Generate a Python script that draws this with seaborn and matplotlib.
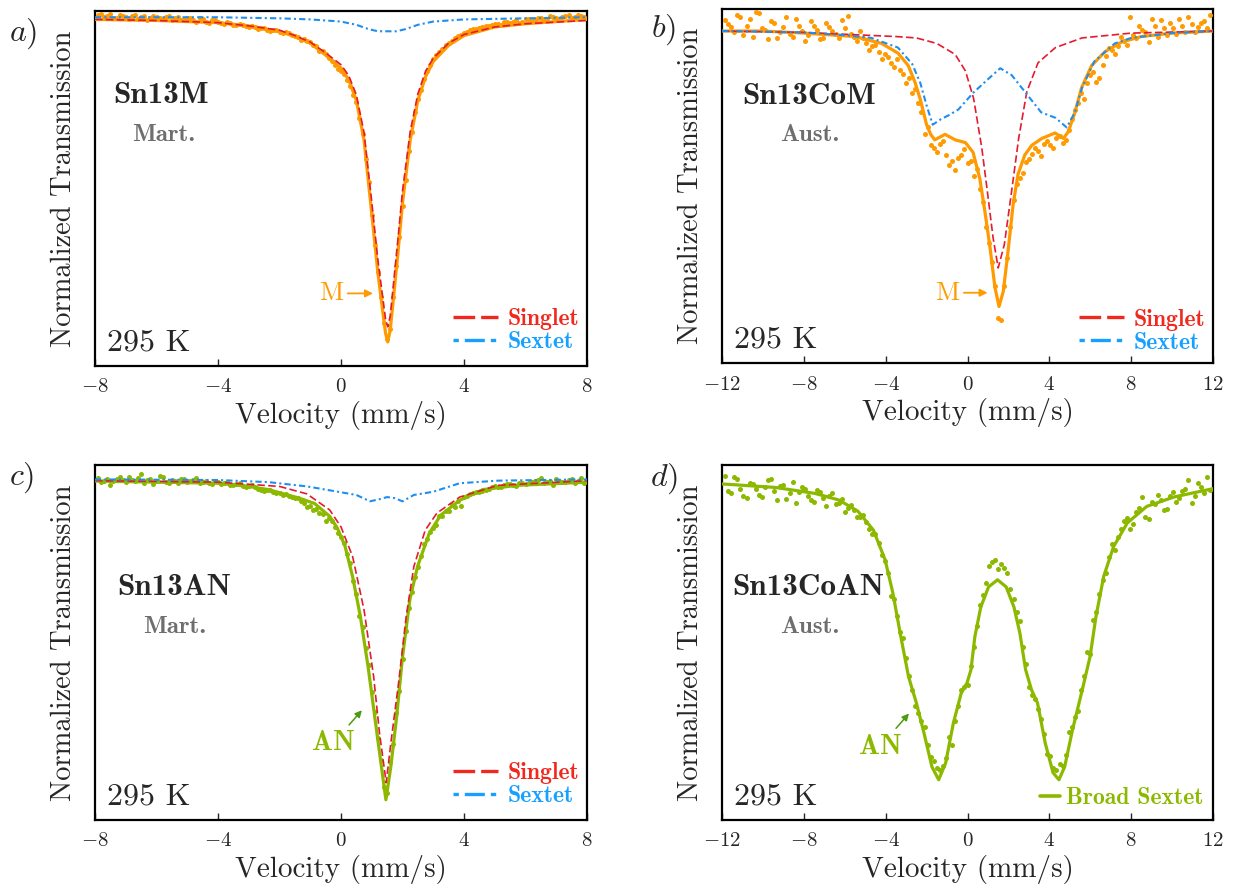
import numpy as np
import pandas as pd
import seaborn as sns
import matplotlib.pyplot as plt
from matplotlib.lines import Line2D

sns.set_style("ticks")
plt.rcParams["font.family"] = ["cmr10"]
plt.rcParams["mathtext.fontset"] = "cm"
plt.rcParams["axes.formatter.use_mathtext"] = True
plt.rcParams["axes.unicode_minus"] = True

ORANGE = "#FF9A00"
GREEN = "#8CB900"
RED = "#E41B30"
BLUE = "#1E8FF0"
GRAY = "#6E6E6E"

# velocity channels used for panels a and c (two interleaved sweeps)
ac_v1 = [-7.9, -7.7, -7.5, -7.3, -7.1, -6.9, -6.7, -6.5, -6.3, -6.1, -5.9, -5.7, -5.5, -5.3,
         -5.1, -4.9, -4.7, -4.5, -4.3, -4.1, -3.9, -3.7, -3.5, -3.3, -3.1, -2.9, -2.7, -2.5,
         -2.3, -2.1, -1.9, -1.7, -1.5, -1.3, -1.1, -0.9, -0.7, -0.5, -0.3, -0.1, 0.1, 0.3,
         0.5, 0.7, 0.9, 1.1, 1.3, 1.5, 1.7, 1.9, 2.1, 2.3, 2.5, 2.7, 2.9, 3.1, 3.3, 3.5,
         3.7, 3.9, 4.1, 4.3, 4.5, 4.7, 4.9, 5.1, 5.3, 5.5, 5.7, 5.9, 6.1, 6.3, 6.5, 6.7,
         6.9, 7.1, 7.3, 7.5, 7.7, 7.9]
ac_v2 = [-7.8, -7.6, -7.4, -7.2, -7.0, -6.8, -6.6, -6.4, -6.2, -6.0, -5.8, -5.6, -5.4, -5.2,
         -5.0, -4.8, -4.6, -4.4, -4.2, -4.0, -3.8, -3.6, -3.4, -3.2, -3.0, -2.8, -2.6, -2.4,
         -2.2, -2.0, -1.8, -1.6, -1.4, -1.2, -1.0, -0.8, -0.6, -0.4, -0.2, 0.0, 0.2, 0.4,
         0.6, 0.8, 1.0, 1.2, 1.4, 1.6, 1.8, 2.0, 2.2, 2.4, 2.6, 2.8, 3.0, 3.2, 3.4, 3.6,
         3.8, 4.0, 4.2, 4.4, 4.6, 4.8, 5.0, 5.2, 5.4, 5.6, 5.8, 6.0, 6.2, 6.4, 6.6, 6.8,
         7.0, 7.2, 7.4, 7.6, 7.8]

# ---------------- panel a : Sn13M ----------------
a_pts_t1 = [1.003, 1.001, 1.004, 1.000, 1.002, 0.999, 1.003, 1.001, 0.998, 1.002, 1.000, 1.001,
            0.998, 1.001, 0.999, 1.000, 0.997, 0.999, 0.996, 0.998, 0.996, 0.997, 0.994, 0.995,
            0.993, 0.993, 0.990, 0.991, 0.988, 0.989, 0.986, 0.986, 0.984, 0.980, 0.979, 0.975,
            0.970, 0.967, 0.960, 0.953, 0.948, 0.937, 0.922, 0.893, 0.848, 0.790, 0.742, 0.703,
            0.742, 0.797, 0.850, 0.895, 0.925, 0.944, 0.957, 0.966, 0.972, 0.977, 0.982, 0.985,
            0.987, 0.990, 0.991, 0.993, 0.994, 0.995, 0.997, 0.996, 0.998, 0.997, 0.999, 0.998,
            1.000, 0.999, 1.001, 0.999, 1.002, 1.000, 1.003, 1.001]
a_pts_t2 = [1.004, 1.002, 1.000, 1.003, 1.001, 1.002, 0.999, 1.002, 1.000, 1.001, 0.999, 1.002,
            1.000, 0.998, 1.000, 0.998, 1.000, 0.997, 0.998, 0.997, 0.995, 0.996, 0.994, 0.994,
            0.992, 0.992, 0.991, 0.989, 0.989, 0.987, 0.987, 0.985, 0.983, 0.981, 0.978, 0.974,
            0.970, 0.963, 0.957, 0.951, 0.943, 0.929, 0.908, 0.870, 0.818, 0.765, 0.718, 0.712,
            0.770, 0.826, 0.877, 0.913, 0.934, 0.951, 0.962, 0.969, 0.975, 0.979, 0.984, 0.986,
            0.989, 0.990, 0.992, 0.993, 0.995, 0.994, 0.997, 0.997, 0.996, 0.999, 0.998, 1.000,
            0.999, 1.002, 1.000, 1.001, 1.003, 1.001, 1.002]
a_fit_v = [-8, -6, -4, -3, -2, -1.5, -1, -0.5, 0, 0.25, 0.5, 0.75, 1.0, 1.2, 1.35, 1.45, 1.52,
           1.6, 1.7, 1.85, 2.0, 2.25, 2.5, 2.75, 3.0, 3.5, 4.0, 5.0, 6.0, 8.0]
a_fit_t = [0.999, 0.998, 0.996, 0.993, 0.988, 0.983, 0.977, 0.966, 0.954, 0.943, 0.924, 0.887,
           0.819, 0.764, 0.730, 0.708, 0.700, 0.711, 0.739, 0.782, 0.829, 0.887, 0.924, 0.946,
           0.960, 0.975, 0.984, 0.992, 0.995, 0.999]
a_sing_t = [0.999, 0.998, 0.996, 0.993, 0.989, 0.984, 0.978, 0.968, 0.957, 0.947, 0.929, 0.894,
            0.830, 0.776, 0.743, 0.721, 0.714, 0.724, 0.752, 0.795, 0.840, 0.895, 0.930, 0.951,
            0.963, 0.977, 0.985, 0.992, 0.995, 0.998]
a_sext_v = [-8, -4, -2, -1, 0, 0.5, 0.9, 1.2, 1.5, 1.8, 2.1, 2.5, 3.0, 4.0, 6.0, 8.0]
a_sext_t = [1.001, 1.001, 1.000, 0.999, 0.997, 0.994, 0.990, 0.988, 0.988, 0.988, 0.990, 0.994,
            0.997, 0.999, 1.000, 1.001]

# velocity channels used for panels b and d
bd_v1 = [-11.85, -11.55, -11.25, -10.95, -10.65, -10.35, -10.05, -9.75, -9.45, -9.15, -8.85,
         -8.55, -8.25, -7.95, -7.65, -7.35, -7.05, -6.75, -6.45, -6.15, -5.85, -5.55, -5.25,
         -4.95, -4.65, -4.35, -4.05, -3.75, -3.45, -3.15, -2.85, -2.55, -2.25, -1.95, -1.65,
         -1.35, -1.05, -0.75, -0.45, -0.15, 0.15, 0.45, 0.75, 1.05, 1.35, 1.65, 1.95, 2.25,
         2.55, 2.85, 3.15, 3.45, 3.75, 4.05, 4.35, 4.65, 4.95, 5.25, 5.55, 5.85, 6.15, 6.45,
         6.75, 7.05, 7.35, 7.65, 7.95, 8.25, 8.55, 8.85, 9.15, 9.45, 9.75, 10.05, 10.35, 10.65,
         10.95, 11.25, 11.55, 11.85]
bd_v2 = [-11.7, -11.4, -11.1, -10.8, -10.5, -10.2, -9.9, -9.6, -9.3, -9.0, -8.7, -8.4, -8.1,
         -7.8, -7.5, -7.2, -6.9, -6.6, -6.3, -6.0, -5.7, -5.4, -5.1, -4.8, -4.5, -4.2, -3.9,
         -3.6, -3.3, -3.0, -2.7, -2.4, -2.1, -1.8, -1.5, -1.2, -0.9, -0.6, -0.3, 0.0, 0.3,
         0.6, 0.9, 1.2, 1.5, 1.8, 2.1, 2.4, 2.7, 3.0, 3.3, 3.6, 3.9, 4.2, 4.5, 4.8, 5.1, 5.4,
         5.7, 6.0, 6.3, 6.6, 6.9, 7.2, 7.5, 7.8, 8.1, 8.4, 8.7, 9.0, 9.3, 9.6, 9.9, 10.2, 10.5,
         10.8, 11.1, 11.4, 11.7]

# ---------------- panel b : Sn13CoM ----------------
b_pts_t1 = [1.008, 1.003, 1.012, 0.997, 1.009, 1.014, 1.002, 0.994, 1.006, 0.999, 1.010, 0.996,
            1.004, 0.993, 1.007, 1.001, 0.995, 1.003, 0.998, 1.008, 1.011, 0.996, 1.000, 0.991,
            0.989, 0.985, 0.983, 0.977, 0.980, 0.969, 0.966, 0.958, 0.941, 0.930, 0.915, 0.918,
            0.910, 0.906, 0.908, 0.914, 0.906, 0.900, 0.876, 0.846, 0.815, 0.790, 0.835,
            0.877, 0.893, 0.905, 0.911, 0.913, 0.918, 0.917, 0.922, 0.919, 0.928, 0.943, 0.955,
            0.962, 0.970, 0.966, 0.982, 0.986, 0.989, 0.993, 1.010, 0.995, 1.001, 0.992, 1.004,
            1.008, 0.997, 1.002, 1.009, 0.999, 1.005, 1.003, 1.007, 1.012]
b_pts_t2 = [1.005, 0.999, 1.010, 1.004, 0.996, 1.013, 1.001, 1.007, 0.995, 1.003, 0.998, 1.009,
            1.000, 0.997, 1.004, 0.994, 1.006, 1.000, 0.995, 1.002, 0.998, 0.993, 0.995, 0.986,
            0.990, 0.980, 0.981, 0.974, 0.972, 0.962, 0.955, 0.948, 0.925, 0.917, 0.912, 0.920,
            0.903, 0.899, 0.910, 0.904, 0.895, 0.885, 0.858, 0.832, 0.792, 0.815, 0.858, 0.889,
            0.897, 0.907, 0.915, 0.909, 0.920, 0.915, 0.924, 0.921, 0.936, 0.948, 0.951, 0.968,
            0.963, 0.975, 0.988, 0.983, 0.996, 0.990, 0.997, 1.004, 0.999, 1.009, 0.996, 1.002,
            1.006, 0.998, 1.004, 1.010, 0.999, 1.006, 1.002]
b_fit_v = [-12, -10, -8, -5.5, -4.2, -3.4, -2.9, -2.57, -2.3, -2.0, -1.8, -1.6, -1.35, -1.1,
           -0.6, -0.1, 0.27, 0.6, 0.85, 1.1, 1.34, 1.54, 1.75, 1.98, 2.23, 2.47, 2.8, 3.14,
           3.63, 4.28, 4.69, 4.93, 5.25, 5.58, 6.07, 6.72, 7.53, 8.5, 10, 12]
b_fit_t = [1.000, 1.000, 0.9985, 0.996, 0.991, 0.984, 0.975, 0.963, 0.950, 0.932, 0.925, 0.921,
           0.923, 0.925, 0.921, 0.919, 0.912, 0.893, 0.869, 0.843, 0.814, 0.800, 0.811, 0.840,
           0.874, 0.896, 0.910, 0.917, 0.922, 0.926, 0.922, 0.927, 0.941, 0.959, 0.975, 0.985,
           0.992, 0.996, 0.9985, 1.000]
b_sing_v = [-12, -8, -5, -3.5, -2.5, -1.5, -0.6, -0.1, 0.3, 0.7, 0.95, 1.25, 1.5, 1.8, 2.15,
            2.5, 2.9, 3.45, 4.3, 5.6, 8, 12]
b_sing_t = [1.000, 0.999, 0.997, 0.996, 0.995, 0.991, 0.983, 0.971, 0.951, 0.915, 0.886, 0.850,
            0.828, 0.845, 0.883, 0.922, 0.956, 0.977, 0.988, 0.995, 0.9985, 1.000]
b_sext_v = [-12, -8, -6, -4.7, -3.4, -2.7, -2.3, -2.0, -1.7, -1.3, -0.9, -0.45, 0.27, 0.85, 1.6,
            2.16, 2.8, 3.6, 4.3, 4.85, 5.25, 5.6, 6.2, 7.2, 8, 10, 12]
b_sext_t = [1.000, 0.999, 0.997, 0.995, 0.988, 0.976, 0.962, 0.946, 0.932, 0.936, 0.939, 0.943,
            0.955, 0.963, 0.973, 0.968, 0.956, 0.941, 0.937, 0.930, 0.941, 0.959, 0.978, 0.991,
            0.995, 0.9985, 1.000]

# ---------------- panel c : Sn13AN ----------------
c_pts_t1 = [1.002, 0.999, 0.995, 1.001, 1.000, 1.003, 0.999, 1.006, 1.000, 0.996, 1.004, 0.998,
            1.000, 0.997, 1.001, 0.999, 1.002, 0.998, 0.997, 0.999, 0.996, 0.998, 0.995, 0.997,
            0.993, 0.995, 0.992, 0.990, 0.991, 0.988, 0.986, 0.985, 0.983, 0.980, 0.975, 0.972,
            0.969, 0.962, 0.962, 0.950, 0.941, 0.922, 0.893, 0.862, 0.826, 0.782, 0.737, 0.706,
            0.752, 0.802, 0.858, 0.895, 0.918, 0.940, 0.951, 0.958, 0.966, 0.971, 0.975, 0.976,
            0.985, 0.988, 0.989, 0.991, 0.993, 0.993, 0.995, 0.996, 0.994, 0.997, 0.997, 0.999,
            1.002, 0.998, 0.995, 0.999, 0.998, 1.001, 0.999, 0.997]
c_pts_t2 = [0.998, 1.001, 0.999, 1.003, 0.998, 1.000, 1.002, 0.997, 1.001, 0.999, 1.003, 0.997,
            0.999, 1.001, 0.998, 1.000, 0.997, 0.999, 0.996, 0.998, 0.997, 0.995, 0.996, 0.994,
            0.994, 0.993, 0.991, 0.991, 0.989, 0.988, 0.987, 0.984, 0.983, 0.978, 0.976, 0.973,
            0.968, 0.964, 0.956, 0.947, 0.931, 0.905, 0.872, 0.842, 0.801, 0.758, 0.712, 0.735,
            0.781, 0.832, 0.880, 0.909, 0.929, 0.945, 0.955, 0.966, 0.971, 0.977, 0.980, 0.984,
            0.987, 0.989, 0.990, 0.992, 0.994, 0.993, 0.996, 0.995, 0.997, 0.996, 0.998, 1.000,
            0.997, 0.999, 1.001, 0.998, 1.000, 0.997, 1.002]
c_fit_v = [-8, -6, -4, -3, -2.36, -1.36, -0.86, -0.37, -0.12, 0.13, 0.38, 0.63, 0.88, 1.06,
           1.25, 1.46, 1.62, 1.81, 2.0, 2.24, 2.49, 2.87, 3.24, 3.86, 4.61, 5.72, 8]
c_fit_t = [0.999, 0.998, 0.997, 0.994, 0.991, 0.983, 0.978, 0.966, 0.955, 0.938, 0.909, 0.872,
           0.825, 0.786, 0.745, 0.700, 0.731, 0.778, 0.834, 0.888, 0.919, 0.950, 0.967, 0.981,
           0.991, 0.995, 0.998]
c_sing_v = [-8, -4, -2, -1.11, -0.37, 0.0, 0.38, 0.75, 1.06, 1.25, 1.47, 1.62, 1.87, 2.12, 2.37,
            2.74, 3.12, 3.86, 5.1, 8]
c_sing_t = [0.9994, 0.998, 0.994, 0.987, 0.972, 0.956, 0.928, 0.878, 0.816, 0.763, 0.716, 0.753,
            0.809, 0.872, 0.919, 0.953, 0.969, 0.984, 0.995, 0.9994]
c_sext_v = [-8, -4, -2.35, -1.1, -0.1, 0.5, 0.94, 1.25, 1.5, 1.75, 2.0, 2.37, 3.0, 3.86, 5.1, 8]
c_sext_t = [1.0006, 1.000, 0.998, 0.994, 0.989, 0.986, 0.980, 0.982, 0.984, 0.983, 0.980, 0.986,
            0.989, 0.997, 0.9994, 1.0006]

# ---------------- panel d : Sn13CoAN ----------------
d_pts_t1 = [1.007, 0.992, 1.004, 0.990, 1.001, 0.996, 0.989, 1.003, 0.994, 0.998, 0.987, 1.002,
            0.993, 0.996, 0.986, 0.995, 0.988, 0.990, 0.983, 0.987, 0.980, 0.978, 0.972, 0.968,
            0.958, 0.950, 0.935, 0.905, 0.888, 0.870, 0.838, 0.812, 0.800, 0.779, 0.766, 0.758,
            0.768, 0.779, 0.812, 0.828, 0.846, 0.880, 0.906, 0.931, 0.936, 0.932, 0.925, 0.903,
            0.884, 0.848, 0.822, 0.810, 0.789, 0.770, 0.758, 0.762, 0.790, 0.803, 0.826, 0.858,
            0.885, 0.907, 0.925, 0.949, 0.955, 0.969, 0.962, 0.976, 0.989, 0.970, 0.983, 0.986,
            0.979, 0.993, 0.988, 0.996, 0.984, 1.001, 0.992, 0.995]
d_pts_t2 = [0.994, 1.006, 0.996, 0.988, 1.000, 0.991, 0.997, 1.004, 0.986, 0.999, 0.992, 0.984,
            0.997, 0.990, 0.985, 0.993, 0.981, 0.992, 0.984, 0.976, 0.982, 0.972, 0.974, 0.962,
            0.958, 0.940, 0.925, 0.903, 0.875, 0.853, 0.826, 0.806, 0.795, 0.769, 0.760, 0.762,
            0.786, 0.800, 0.826, 0.830, 0.862, 0.898, 0.916, 0.934, 0.928, 0.929, 0.911, 0.892,
            0.862, 0.828, 0.818, 0.801, 0.772, 0.760, 0.763, 0.771, 0.795, 0.808, 0.838, 0.856,
            0.892, 0.919, 0.938, 0.944, 0.962, 0.971, 0.966, 0.980, 0.972, 0.985, 0.991, 0.978,
            0.990, 0.985, 0.994, 1.003, 0.990, 0.997, 1.006]
d_fit_v = [-12, -9.37, -7.46, -6.3, -5.36, -4.6, -4.03, -3.65, -3.26, -2.88, -2.5, -2.12, -1.74,
           -1.41, -1.07, -0.69, -0.31, -0.02, 0.17, 0.36, 0.65, 1.03, 1.47, 1.89, 2.27, 2.56,
           2.84, 3.13, 3.42, 3.8, 4.18, 4.47, 4.75, 5.13, 5.61, 5.99, 6.28, 6.66, 7.14, 7.81,
           8.76, 10.1, 12]
d_fit_t = [1.000, 0.997, 0.992, 0.9865, 0.977, 0.961, 0.936, 0.908, 0.871, 0.837, 0.815, 0.789,
           0.761, 0.750, 0.764, 0.798, 0.823, 0.832, 0.843, 0.871, 0.896, 0.913, 0.919, 0.913,
           0.896, 0.874, 0.843, 0.826, 0.815, 0.781, 0.756, 0.750, 0.761, 0.792, 0.826, 0.854,
           0.888, 0.922, 0.947, 0.967, 0.981, 0.989, 0.996]

v_ticks_small = [-8, -4, 0, 4, 8]
v_ticks_wide = [-12, -8, -4, 0, 4, 8, 12]

fig = plt.figure(figsize=(12.34, 8.90), dpi=100)
W, H = 1234, 890


def make_ax(left, top, right, bottom):
    return fig.add_axes([left / W, 1 - bottom / H, (right - left) / W, (bottom - top) / H])


def draw(ax, v1, t1, v2, t2, fv, ft, color):
    df = pd.DataFrame({"v": v1 + v2, "t": t1 + t2})
    sns.lineplot(x=fv, y=ft, ax=ax, color=color, lw=2.3, errorbar=None, zorder=3)
    sns.scatterplot(data=df, x="v", y="t", ax=ax, color=color, s=13, linewidth=0, zorder=5)


def style(ax, xlim, ylim, ticks):
    ax.set_xlim(xlim)
    ax.set_ylim(ylim)
    ax.set_xticks(ticks)
    ax.set_yticks([])
    ax.tick_params(axis="x", direction="in", length=5, width=1, labelsize=15, pad=9)
    for sp in ax.spines.values():
        sp.set_visible(True)
        sp.set_linewidth(1.6)
        sp.set_color("black")
    ax.set_xlabel("Velocity (mm/s)", fontsize=21, labelpad=3)
    ax.set_ylabel("Normalized Transmission", fontsize=20.5, labelpad=13)


def names(ax, name, phase, nx, ny, px, py):
    ax.text(nx, ny, name, transform=ax.transAxes, fontsize=22.5, family="cmb10",
            va="center", ha="left")
    ax.text(px, py, phase, transform=ax.transAxes, fontsize=18, family="cmb10",
            color=GRAY, va="center", ha="left")
    ax.text(0.025, 0.066, "295 K", transform=ax.transAxes, fontsize=23, va="center", ha="left")


def comp_legend(ax, y):
    h_s = Line2D([], [], color="#F0281E", lw=2.4, dashes=(6.5, 1.8))
    h_x = Line2D([], [], color="#18A0FF", lw=2.4, dashes=(1.6, 1.8, 6.0, 1.8))
    ax.legend([h_s, h_x], ["Singlet", "Sextet"], loc="center right", bbox_to_anchor=(0.985, y),
              frameon=False, prop={"family": "cmb10", "size": 17},
              labelcolor=["#F0281E", "#18A0FF"], handlelength=1.9, handletextpad=0.42,
              labelspacing=0.05, borderpad=0, borderaxespad=0)


def lines(ax, sv, st, xv, xt):
    sns.lineplot(x=sv, y=st, ax=ax, color=RED, lw=1.2, linestyle=(0, (4.5, 2)),
                 errorbar=None, zorder=6)
    sns.lineplot(x=xv, y=xt, ax=ax, color=BLUE, lw=1.5, linestyle=(0, (3, 1.5, 1, 1.5)),
                 errorbar=None, zorder=6)


# a)
ax = make_ax(95, 11, 587, 366)
draw(ax, ac_v1, a_pts_t1, ac_v2, a_pts_t2, a_fit_v, a_fit_t, ORANGE)
lines(ax, a_fit_v, a_sing_t, a_sext_v, a_sext_t)
style(ax, (-8, 8), (0.6777, 1.0068), v_ticks_small)
names(ax, "Sn13M", "Mart.", 0.037, 0.761, 0.075, 0.651)
comp_legend(ax, 0.10)
ax.annotate("M", xy=(1.04, 0.745), xytext=(-0.33, 0.745), color=ORANGE, fontsize=19,
            va="center", ha="center",
            arrowprops=dict(arrowstyle="-|>", color=ORANGE, lw=1.3, mutation_scale=11,
                            shrinkA=1, shrinkB=0))

# b)
ax = make_ax(722, 9, 1213, 363)
draw(ax, bd_v1, b_pts_t1, bd_v2, b_pts_t2, b_fit_v, b_fit_t, ORANGE)
lines(ax, b_sing_v, b_sing_t, b_sext_v, b_sext_t)
style(ax, (-12, 12), (0.759, 1.016), v_ticks_wide)
names(ax, "Sn13CoM", "Aust.", 0.041, 0.754, 0.118, 0.644)
comp_legend(ax, 0.09)
ax.annotate("M", xy=(0.98, 0.810), xytext=(-1.0, 0.810), color=ORANGE, fontsize=19,
            va="center", ha="center",
            arrowprops=dict(arrowstyle="-|>", color=ORANGE, lw=1.3, mutation_scale=11,
                            shrinkA=1, shrinkB=0))

# c)
ax = make_ax(95, 465, 587, 820)
draw(ax, ac_v1, c_pts_t1, ac_v2, c_pts_t2, c_fit_v, c_fit_t, GREEN)
lines(ax, c_sing_v, c_sing_t, c_sext_v, c_sext_t)
style(ax, (-8, 8), (0.681, 1.0141), v_ticks_small)
names(ax, "Sn13AN", "Mart.", 0.045, 0.656, 0.098, 0.544)
comp_legend(ax, 0.10)
ax.annotate("AN", xy=(0.68, 0.784), xytext=(-0.26, 0.753), color=GREEN, fontsize=20,
            family="cmb10", va="center", ha="center",
            arrowprops=dict(arrowstyle="-|>", color="#4E9A10", lw=1.1, mutation_scale=10,
                            shrinkA=2, shrinkB=0))

# d)
ax = make_ax(722, 465, 1213, 820)
draw(ax, bd_v1, d_pts_t1, bd_v2, d_pts_t2, d_fit_v, d_fit_t, GREEN)
style(ax, (-12, 12), (0.716, 1.016), v_ticks_wide)
names(ax, "Sn13CoAN", "Aust.", 0.020, 0.656, 0.118, 0.544)
h_b = Line2D([], [], color=GREEN, lw=2.6)
ax.legend([h_b], ["Broad Sextet"], loc="center right", bbox_to_anchor=(0.98, 0.062),
          frameon=False, prop={"family": "cmb10", "size": 17}, labelcolor=[GREEN],
          handlelength=0.85, handletextpad=0.25, borderpad=0, borderaxespad=0)
ax.annotate("AN", xy=(-2.86, 0.806), xytext=(-4.28, 0.778), color=GREEN, fontsize=20,
            family="cmb10", va="center", ha="center",
            arrowprops=dict(arrowstyle="-|>", color="#4E9A10", lw=1.1, mutation_scale=10,
                            shrinkA=2, shrinkB=0))

# panel letters
for lab, px, py in [("a)", 9, 34), ("b)", 651, 30), ("c)", 9, 478), ("d)", 650, 479)]:
    fig.text(px / W, 1 - py / H, "$%s$" % lab, fontsize=23, va="center", ha="left")

fig.savefig("out.png", dpi=100)
